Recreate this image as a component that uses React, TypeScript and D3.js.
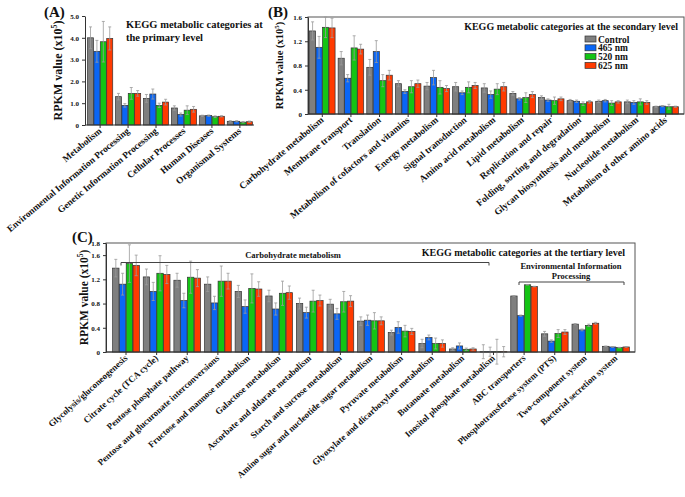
import * as d3 from 'd3'
import { useEffect, useRef } from 'react'

const seriesNames = ['Control', '465 nm', '520 nm', '625 nm']
const seriesColors = ['#7f7f7f', '#0a66f5', '#14c414', '#ff3a00']

const primaryCategories = ['Metabolism', 'Environmental Information Processing', 'Genetic Information Processing',
    'Cellular Processes', 'Human Diseases', 'Organismal Systems']
const primaryValues = [
    [4.0, 3.38, 3.82, 3.97], [1.3, 0.9, 1.45, 1.45], [1.22, 1.42, 0.9, 1.05],
    [0.78, 0.48, 0.68, 0.72], [0.42, 0.43, 0.38, 0.4], [0.17, 0.17, 0.13, 0.15],
]
const primaryErrors = [
    [0.5, 0.5, 0.93, 0.53], [0.15, 0.08, 0.27, 0.13], [0.18, 0.23, 0.1, 0.13],
    [0.1, 0.07, 0.2, 0.13], [0.03, 0.03, 0.04, 0.03], [0.03, 0.03, 0.03, 0.03],
]
const primaryTicks = [0, 1, 2, 3, 4, 5]

const secondaryCategories = ['Carbohydrate metabolism', 'Membrane transport', 'Translation',
    'Metabolism of cofactors and vitamins', 'Energy metabolism', 'Signal transduction', 'Amino acid metabolism',
    'Lipid metabolism', 'Replication and repair', 'Folding, sorting and degradation',
    'Glycan biosynthesis and metabolism', 'Nucleotide metabolism', 'Metabolism of other amino acids']
const secondaryValues = [
    [1.37, 1.1, 1.43, 1.42], [0.92, 0.59, 1.09, 1.07], [0.77, 1.03, 0.55, 0.64], [0.5, 0.37, 0.45, 0.5],
    [0.46, 0.6, 0.44, 0.42], [0.45, 0.35, 0.44, 0.47], [0.43, 0.32, 0.41, 0.45], [0.34, 0.25, 0.27, 0.32],
    [0.27, 0.23, 0.22, 0.25], [0.22, 0.21, 0.17, 0.2], [0.21, 0.22, 0.18, 0.2], [0.2, 0.19, 0.2, 0.19],
    [0.12, 0.13, 0.12, 0.12],
]
const secondaryErrors = [
    [0.15, 0.18, 0.17, 0.16], [0.11, 0.06, 0.2, 0.08], [0.13, 0.18, 0.1, 0.08], [0.05, 0.03, 0.1, 0.06],
    [0.06, 0.12, 0.11, 0.05], [0.07, 0.03, 0.09, 0.05], [0.07, 0.06, 0.09, 0.07], [0.03, 0.02, 0.08, 0.05],
    [0.03, 0.02, 0.06, 0.03], [0.02, 0.02, 0.03, 0.02], [0.02, 0.02, 0.04, 0.02], [0.03, 0.03, 0.05, 0.03],
    [0.01, 0.01, 0.04, 0.01],
]
const secondaryTicks = [0, 0.4, 0.8, 1.2, 1.6]

const tertiaryCategories = ['Glycolysis/gluconeogenesis', 'Citrate cycle (TCA cycle)', 'Pentose phosphate pathway',
    'Pentose and glucuronate interconversions', 'Fructose and mannose metabolism', 'Galactose metabolism',
    'Ascorbate and aldarate metabolism', 'Starch and sucrose metabolism', 'Amino sugar and nucleotide sugar metabolism',
    'Pyruvate metabolism', 'Glyoxylate and dicarboxylate metabolism', 'Butanoate metabolism',
    'Inositol phosphate metabolism', 'ABC transporters', 'Phosphotransferase system (PTS)',
    'Two-component system', 'Bacterial secretion system']
const tertiaryValues = [
    [1.385, 1.12, 1.46, 1.43], [1.24, 1.0, 1.3, 1.28], [1.185, 0.85, 1.235, 1.22], [1.12, 0.81, 1.17, 1.17],
    [1.0, 0.75, 1.05, 1.04], [0.925, 0.71, 0.97, 0.98], [0.8, 0.65, 0.84, 0.85], [0.79, 0.63, 0.83, 0.84],
    [0.51, 0.525, 0.515, 0.515], [0.32, 0.405, 0.345, 0.34], [0.14, 0.24, 0.14, 0.14], [0.05, 0.1, 0.045, 0.05],
    [0.005, 0.005, 0.005, 0.005], [0.925, 0.6, 1.11, 1.08], [0.3, 0.18, 0.305, 0.33], [0.46, 0.365, 0.44, 0.475],
    [0.094, 0.083, 0.072, 0.083],
]
const tertiaryErrors = [
    [0.145, 0.18, 0.31, 0.17], [0.13, 0.15, 0.29, 0.15], [0.115, 0.12, 0.265, 0.14], [0.12, 0.11, 0.25, 0.13],
    [0.1, 0.11, 0.24, 0.12], [0.095, 0.1, 0.2, 0.11], [0.09, 0.09, 0.18, 0.09], [0.08, 0.09, 0.17, 0.09],
    [0.07, 0.085, 0.135, 0.065], [0.04, 0.095, 0.095, 0.05], [0.07, 0.04, 0.09, 0.06], [0.02, 0.05, 0.02, 0.02],
    [0.115, 0.075, 0.205, 0.085], [0.005, 0.01, 0.005, 0.005], [0.04, 0.02, 0.065, 0.04], [0.01, 0.015, 0.02, 0.015],
    [0.005, 0.005, 0.005, 0.005],
]
const tertiaryTicks = [0, 0.4, 0.8, 1.2, 1.6, 1.8]

const FONT = '"Liberation Serif", "Times New Roman", serif'

export default function App() {
    const svgRef = useRef<SVGSVGElement>(null)

    useEffect(() => {
        document.body.style.margin = '0'
        makeChart(svgRef)
    }, [])

    function drawPanel(svg, opt) {
        const g = svg.append('g')
        const x = d3.scaleBand().domain(opt.categories).range(opt.xRange).paddingInner(opt.padInner).paddingOuter(0.04)
        const xs = d3.scaleBand().domain(d3.range(4)).range([0, x.bandwidth()]).padding(0.06)
        const y = d3.scaleLinear().domain(opt.yDomain).range(opt.yRange)
        const [bottom, top] = opt.yRange

        if (opt.box) {
            g.append('rect').attr('x', opt.axisX).attr('y', top).attr('width', opt.box - opt.axisX)
                .attr('height', bottom - top).attr('fill', 'none').attr('stroke', '#555').attr('stroke-width', 1)
        }

        // bars
        opt.categories.forEach((c, i) => {
            opt.values[i].forEach((v, j) => {
                g.append('rect')
                    .attr('x', x(c) + xs(j)).attr('y', y(v))
                    .attr('width', xs.bandwidth()).attr('height', y(0) - y(v))
                    .attr('fill', seriesColors[j]).attr('stroke', '#333').attr('stroke-width', 0.7)
            })
        })
        // error bars
        opt.categories.forEach((c, i) => {
            opt.values[i].forEach((v, j) => {
                const e = opt.errors[i][j]
                const cx = x(c) + xs(j) + xs.bandwidth() / 2
                const eg = g.append('g').attr('stroke', '#9a9a9a').attr('stroke-width', 0.8)
                eg.append('line').attr('x1', cx).attr('x2', cx).attr('y1', y(v - e)).attr('y2', y(v + e))
                eg.append('line').attr('x1', cx - 1.5).attr('x2', cx + 1.5).attr('y1', y(v + e)).attr('y2', y(v + e))
                eg.append('line').attr('x1', cx - 1.5).attr('x2', cx + 1.5).attr('y1', y(v - e)).attr('y2', y(v - e))
            })
        })

        // y axis
        const yAxis = g.append('g').attr('transform', `translate(${opt.axisX},0)`)
            .call(d3.axisLeft(y).tickValues(opt.ticks).tickSize(3).tickSizeOuter(0)
                .tickFormat(d => (d === 0 ? '0' : d3.format('.1f')(d))))
        yAxis.selectAll('text').attr('font-family', FONT).attr('font-weight', 'bold').attr('font-size', 7).attr('fill', '#111')
        yAxis.selectAll('line, path').attr('stroke', '#333')

        // x axis
        const xAxis = g.append('g').attr('transform', `translate(0,${bottom})`)
        xAxis.append('line').attr('x1', opt.axisX).attr('x2', opt.box || opt.xRange[1]).attr('y1', 0).attr('y2', 0)
            .attr('stroke', '#333')
        opt.categories.forEach(c => {
            const cx = x(c) + x.bandwidth() / 2
            xAxis.append('line').attr('x1', cx).attr('x2', cx).attr('y1', 0).attr('y2', 3).attr('stroke', '#333')
            xAxis.append('text').attr('transform', `translate(${cx + 2},${7}) rotate(${opt.angle})`)
                .attr('text-anchor', 'end').attr('font-family', FONT).attr('font-weight', 'bold')
                .attr('font-size', opt.labelSize).attr('fill', '#111').text(c)
        })

        // y label
        const yl = g.append('text').attr('transform', `translate(${opt.yLabelX},${(top + bottom) / 2}) rotate(-90)`)
            .attr('text-anchor', 'middle').attr('font-family', FONT).attr('font-weight', 'bold')
            .attr('font-size', opt.yLabelSize).attr('fill', '#111')
        yl.append('tspan').text('RPKM value (x10')
        yl.append('tspan').attr('font-size', opt.yLabelSize * 0.65).attr('dy', -opt.yLabelSize * 0.4).text('5')
        yl.append('tspan').attr('dy', opt.yLabelSize * 0.4).text(')')

        // panel letter
        g.append('text').attr('x', opt.letterX).attr('y', opt.letterY).attr('font-family', FONT)
            .attr('font-weight', 'bold').attr('font-size', 15).attr('fill', '#111').text(opt.letter)
        return { g, x, y }
    }

    function boldText(g, x, y, s, size, anchor = 'start') {
        g.append('text').attr('x', x).attr('y', y).attr('text-anchor', anchor).attr('font-family', FONT)
            .attr('font-weight', 'bold').attr('font-size', size).attr('fill', '#111').text(s)
    }

    function makeChart(svgRef) {
        const svg = d3.select(svgRef.current).attr('width', 685).attr('height', 497)
        svg.selectAll('*').remove()

        const a = drawPanel(svg, {
            categories: primaryCategories, values: primaryValues, errors: primaryErrors, ticks: primaryTicks,
            xRange: [86, 254], yRange: [125, 16], yDomain: [0, 5], padInner: 0.07, axisX: 85, box: 0,
            angle: -40, labelSize: 9.4, yLabelX: 62, yLabelSize: 12, letter: '(A)', letterX: 44, letterY: 17,
        })
        boldText(a.g, 126, 28, 'KEGG metabolic categories at', 10.5)
        boldText(a.g, 126, 41, 'the primary level', 10.5)

        const b = drawPanel(svg, {
            categories: secondaryCategories, values: secondaryValues, errors: secondaryErrors, ticks: secondaryTicks,
            xRange: [308, 680], yRange: [114, 17], yDomain: [0, 1.6], padInner: 0.08, axisX: 308, box: 684,
            angle: -40, labelSize: 9.5, yLabelX: 283, yLabelSize: 10.5, letter: '(B)', letterX: 268, letterY: 17,
        })
        boldText(b.g, 678, 30, 'KEGG metabolic categories at the secondary level', 10, 'end')
        seriesNames.forEach((s, i) => {
            b.g.append('rect').attr('x', 585).attr('y', 36 + i * 8.8).attr('width', 11).attr('height', 6)
                .attr('fill', seriesColors[i]).attr('stroke', '#333').attr('stroke-width', 0.7)
            boldText(b.g, 598, 42.5 + i * 8.8, s, 9.5)
        })

        const c = drawPanel(svg, {
            categories: tertiaryCategories, values: tertiaryValues, errors: tertiaryErrors, ticks: tertiaryTicks,
            xRange: [111, 631], yRange: [352, 243], yDomain: [0, 1.8], padInner: 0.1, axisX: 106, box: 635,
            angle: -42, labelSize: 9, yLabelX: 88, yLabelSize: 11.5, letter: '(C)', letterX: 72, letterY: 242,
        })
        boldText(c.g, 625, 256, 'KEGG metabolic categories at the tertiary level', 10, 'end')
        boldText(c.g, 293, 258, 'Carbohydrate metabolism', 8.5, 'middle')
        boldText(c.g, 571, 269, 'Environmental Information', 8.5, 'middle')
        boldText(c.g, 571, 279, 'Processing', 8.5, 'middle')
        const bracket = (x1, x2, yy) => {
            c.g.append('path').attr('d', `M${x1},${yy + 3}V${yy}H${x2}V${yy + 3}`)
                .attr('fill', 'none').attr('stroke', '#444').attr('stroke-width', 1)
        }
        bracket(121, 489, 262.5)
        bracket(519, 624, 282)
    }

    return (
        <svg ref={svgRef} style={{ display: 'block', background: '#fff' }}></svg>
    )
}
